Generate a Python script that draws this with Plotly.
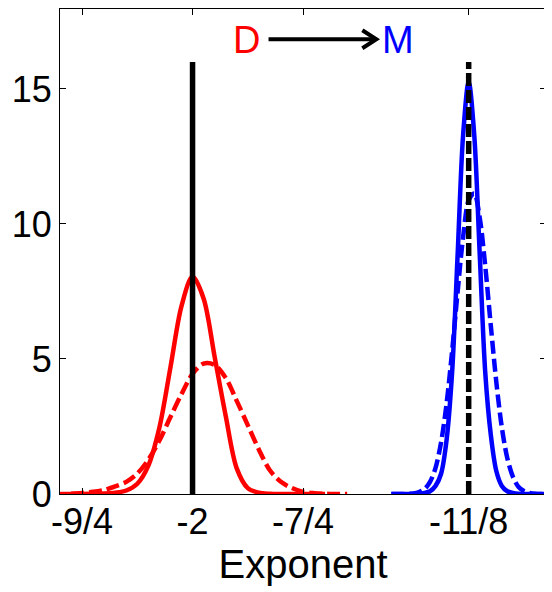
import plotly.graph_objects as go

# ---- data ----
red_x = [-2.300, -2.275, -2.250, -2.225, -2.200, -2.175, -2.150, -2.125, -2.100,
         -2.075, -2.050, -2.025, -2.000, -1.975, -1.950, -1.925, -1.900, -1.875,
         -1.850, -1.825, -1.800, -1.775, -1.750, -1.725, -1.700, -1.675, -1.650]
red_solid = [0.00, 0.00, 0.00, 0.01, 0.02, 0.05, 0.13, 0.38, 1.05,
             2.46, 4.69, 6.96, 8.05, 7.24, 5.08, 2.90, 0.95, 0.22,
             0.05, 0.01, 0.00, 0.00, 0.00, 0.00, 0.00, None, None]
red_dashed = [None, 0.01, 0.04, 0.08, 0.15, 0.28, 0.45, 0.76, 1.27,
              1.98, 2.85, 3.70, 4.45, 4.83, 4.78, 4.30, 3.45, 2.55,
              1.65, 0.88, 0.45, 0.22, 0.08, 0.03, 0.01, 0.00, 0.00]

blue_x = [-1.5500, -1.5375, -1.5250, -1.5125, -1.5000, -1.4875, -1.4750, -1.4625,
          -1.4500, -1.4375, -1.4250, -1.4125, -1.4000, -1.3875, -1.3750, -1.3625,
          -1.3500, -1.3375, -1.3250, -1.3125, -1.3000, -1.2875, -1.2750, -1.2625,
          -1.2500, -1.2375, -1.2250, -1.2125, -1.2000]
blue_solid = [0.00, 0.00, 0.00, 0.00, 0.00, 0.01, 0.04, 0.10,
              0.30, 0.75, 2.00, 4.50, 8.87, 13.32, 15.26, 13.32,
              8.87, 4.50, 2.20, 0.85, 0.30, 0.10, 0.04, 0.01,
              0.00, 0.00, 0.00, 0.00, 0.00]
blue_dashed = [0.00, 0.00, 0.00, 0.01, 0.02, 0.07, 0.18, 0.45,
               0.97, 1.91, 3.35, 5.29, 7.49, 9.53, 10.87, 11.13,
               10.23, 8.44, 6.25, 4.15, 2.47, 1.32, 0.64, 0.27,
               0.11, 0.04, 0.01, 0.00, 0.00]

ref_x = [-2.0, -1.375]          # reference exponents (vertical markers)
ref_top = 16.0
tick_vals = [-2.25, -2.0, -1.75, -1.375]
tick_text = ["-9/4", "-2", "-7/4", "-11/8"]
y_ticks = [0, 5, 10, 15]

RED = "#FF0000"
BLUE = "#0000FF"
FONT = "Liberation Sans, Arial, sans-serif"

fig = go.Figure()
fig.add_trace(go.Scatter(x=red_x, y=red_solid, mode="lines", connectgaps=False,
                         line=dict(color=RED, width=4.5, shape="spline", smoothing=0.9)))
fig.add_trace(go.Scatter(x=red_x, y=red_dashed, mode="lines",
                         line=dict(color=RED, width=4.5, dash="13px,5px", shape="spline", smoothing=0.9)))
fig.add_trace(go.Scatter(x=blue_x, y=blue_solid, mode="lines",
                         line=dict(color=BLUE, width=4.5, shape="spline", smoothing=0.9)))
fig.add_trace(go.Scatter(x=blue_x, y=blue_dashed, mode="lines",
                         line=dict(color=BLUE, width=4.5, dash="13px,5px", shape="spline", smoothing=0.9)))
fig.add_trace(go.Scatter(x=[ref_x[0], ref_x[0]], y=[0, ref_top], mode="lines",
                         line=dict(color="black", width=5.5)))
fig.add_trace(go.Scatter(x=[ref_x[1], ref_x[1]], y=[0, ref_top], mode="lines",
                         line=dict(color="black", width=5.5, dash="13px,4px")))

# D -> M label
fig.add_annotation(x=-1.877, y=16.8, text="D", showarrow=False,
                   font=dict(family=FONT, size=38, color=RED))
fig.add_annotation(x=-1.535, y=16.8, text="M", showarrow=False,
                   font=dict(family=FONT, size=38, color=BLUE))
fig.add_shape(type="line", x0=-1.828, x1=-1.586, y0=16.84, y1=16.84,
              line=dict(color="black", width=4))
fig.add_shape(type="path", xref="x", yref="y", xsizemode="pixel", ysizemode="pixel",
              xanchor=-1.584, yanchor=16.84, path="M -14,9 L 0,0 L -14,-9",
              line=dict(color="black", width=4))

fig.update_layout(
    width=544, height=584,
    margin=dict(l=52, r=6, t=1, b=98),
    paper_bgcolor="white", plot_bgcolor="white",
    showlegend=False,
    font=dict(family=FONT, color="black"),
)
fig.update_xaxes(range=[-2.3, -1.2], tickvals=tick_vals, ticktext=tick_text,
                 ticks="inside", ticklen=6, tickcolor="black", tickwidth=1,
                 showline=True, linecolor="black", linewidth=1, mirror="ticks",
                 showgrid=False, zeroline=False, ticklabelstandoff=-4,
                 tickfont=dict(size=36, family=FONT, color="black"),
                 title=dict(text="Exponent", font=dict(size=40, family=FONT, color="black"),
                            standoff=4))
fig.update_yaxes(range=[0, 17.96], tickvals=y_ticks,
                 ticks="inside", ticklen=6, tickcolor="black", tickwidth=1,
                 showline=True, linecolor="black", linewidth=1, mirror="ticks",
                 showgrid=False, zeroline=False,
                 tickfont=dict(size=36, family=FONT, color="black"))

fig.write_html("out.html")
